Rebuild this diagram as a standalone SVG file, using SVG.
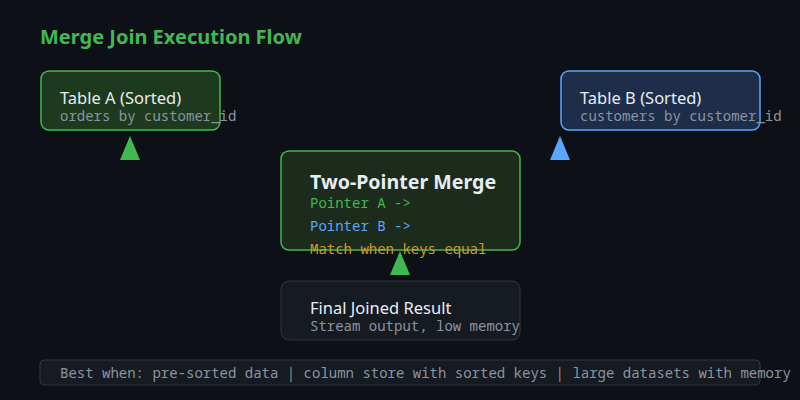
<svg xmlns="http://www.w3.org/2000/svg" width="800" height="400" viewBox="0 0 800 400">
<style>
.title{font-family:"Noto Sans","Liberation Sans",sans-serif;font-weight:bold;font-size:20px;fill:#3fb950}
.name{font-family:"Noto Sans","Liberation Sans",sans-serif;font-size:16.5px;fill:#e6edf3}
.big{font-family:"Noto Sans","Liberation Sans",sans-serif;font-weight:bold;font-size:19.6px;fill:#e6edf3}
.mono{font-family:"Noto Sans Mono","DejaVu Sans Mono","Liberation Mono",monospace;font-size:14px}
.sub{fill:#8b949e}
.green{fill:#3fb950}
.blue{fill:#58a6ff}
.orange{fill:#d29922}
.dark{fill:#161b22;stroke:#30363d;stroke-width:1}
</style>
<rect width="800" height="400" fill="#0d1117"/>
<text class="title" x="40" y="44">Merge Join Execution Flow</text>
<g id="tableA">
<rect x="41" y="71" width="179" height="59" rx="8" fill="#1e3a1e" stroke="#3fb950" stroke-width="1.5"/>
<text class="name" x="60" y="104">Table A (Sorted)</text>
<text class="mono sub" x="60" y="121">orders by customer_id</text>
</g>
<g id="tableB">
<rect x="561" y="71" width="199" height="59" rx="8" fill="#1e2d4a" stroke="#58a6ff" stroke-width="1.5"/>
<text class="name" x="580" y="104">Table B (Sorted)</text>
<text class="mono sub" x="580" y="121">customers by customer_id</text>
</g>
<g id="merge">
<rect x="281" y="151" width="239" height="99" rx="8" fill="#1c2b1c" stroke="#3fb950" stroke-width="1.5"/>
<text class="big" x="310" y="189">Two-Pointer Merge</text>
<text class="mono green" x="310" y="208">Pointer A -&gt;</text>
<text class="mono blue" x="310" y="231">Pointer B -&gt;</text>
<text class="mono orange" x="310" y="254">Match when keys equal</text>
</g>
<g id="result">
<rect class="dark" x="281" y="281" width="239" height="59" rx="8"/>
<text class="name" x="310" y="314">Final Joined Result</text>
<text class="mono sub" x="310" y="331">Stream output, low memory</text>
</g>
<g id="connectors">
<polygon points="130,136 120,160 140,160" fill="#3fb950"/>
<polygon points="560,136 550,160 570,160" fill="#58a6ff"/>
<polygon points="400,251 390,275 410,275" fill="#3fb950"/>
</g>
<g id="footer">
<rect class="dark" x="40" y="360" width="720" height="25" rx="4"/>
<text class="mono sub" x="60" y="378">Best when: pre-sorted data | column store with sorted keys | large datasets with memory</text>
</g>
</svg>
